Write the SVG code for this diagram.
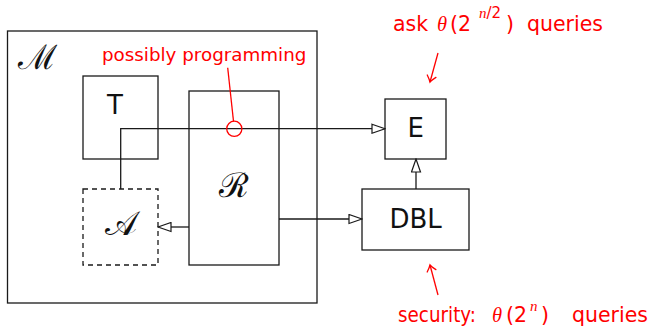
<svg xmlns="http://www.w3.org/2000/svg" width="651" height="330" viewBox="0 0 651 330">
<style>
.box{fill:none;stroke:#1a1a1a;stroke-width:1.3}
.dash{stroke-dasharray:5 4}
.lbl{font-family:"DejaVu Sans",sans-serif;font-size:26px;fill:#111;text-anchor:middle}
.cal{font-family:"DejaVu Serif","Liberation Serif",serif;font-size:34px;fill:#111;text-anchor:middle}
.red{font-family:"DejaVu Sans",sans-serif;font-size:20.5px;fill:#ff0000}
.redsm{font-family:"DejaVu Sans",sans-serif;font-size:18.3px;fill:#ff0000}
.th{font-family:"Liberation Serif",serif;font-style:italic}
.sup{font-size:15px}
.con{fill:none;stroke:#1a1a1a;stroke-width:1.3}
.rcon{fill:none;stroke:#ff0000;stroke-width:1.3}
</style>
<defs>
<marker id="tri" viewBox="0 0 15 11" refX="14" refY="5.5" markerWidth="15" markerHeight="11" markerUnits="userSpaceOnUse" orient="auto">
<path d="M1,1 L14,5.5 L1,10 Z" fill="#fff" stroke="#1a1a1a" stroke-width="1.2"/>
</marker>
<marker id="rto" viewBox="-8 -6 10 12" refX="0" refY="0" markerWidth="10" markerHeight="12" markerUnits="userSpaceOnUse" orient="auto">
<path d="M-6,-4.5 Q-2,-1 0,0 Q-2,1 -6,4.5" fill="none" stroke="#ff0000" stroke-width="1.3" stroke-linecap="round"/>
</marker>
</defs>

<g id="M">
<rect class="box" x="7.5" y="31" width="309.5" height="272"/>
<text class="cal" x="37" y="69" font-size="38px">ℳ</text>
</g>
<g id="T">
<rect class="box" x="83" y="76" width="75" height="83"/>
<text class="lbl" x="115" y="114">T</text>
</g>
<g id="R">
<rect class="box" x="189" y="91" width="90" height="174"/>
<text class="cal" x="234" y="197">ℛ</text>
</g>
<g id="A">
<rect class="box dash" x="83" y="189" width="75" height="76"/>
<text class="cal" x="121" y="235">𝒜</text>
</g>
<g id="E">
<rect class="box" x="385" y="99" width="61" height="60"/>
<text class="lbl" x="415.7" y="137">E</text>
</g>
<g id="DBL">
<rect class="box" x="362" y="189" width="107" height="61"/>
<text class="lbl" x="415.7" y="228">DBL</text>
</g>

<g id="connectors">
<path class="con" d="M120.7,189 V128.7 H385" marker-end="url(#tri)"/>
<path class="con" d="M189,227 H158" marker-end="url(#tri)"/>
<path class="con" d="M279,219 H362" marker-end="url(#tri)"/>
<path class="con" d="M416,189 V159" marker-end="url(#tri)"/>
<circle cx="234.3" cy="128.8" r="7.6" fill="none" stroke="#ff0000" stroke-width="1.3"/>
<path class="rcon" d="M227.7,67.7 L233.5,121.2"/>
<path class="rcon" d="M438,53 L430,82" marker-end="url(#rto)"/>
<path class="rcon" d="M438,295 L430,265" marker-end="url(#rto)"/>
</g>

<g id="annotations">
<text class="redsm" x="102" y="61">possibly programming</text>
<text class="red"><tspan x="393" y="31">ask</tspan><tspan class="th" x="437" y="31">θ</tspan><tspan x="450" y="31">(2</tspan><tspan class="th sup" x="479" y="18">n</tspan><tspan class="sup" y="18">/2</tspan><tspan x="506" y="31">)</tspan><tspan x="527" y="31">queries</tspan></text>
<text class="red"><tspan x="398" y="322" textLength="78" lengthAdjust="spacingAndGlyphs">security:</tspan><tspan class="th" x="492" y="322">θ</tspan><tspan x="506" y="322">(2</tspan><tspan class="th sup" x="530" y="311">n</tspan><tspan x="541" y="322">)</tspan><tspan x="572" y="322">queries</tspan></text>
</g>
</svg>
